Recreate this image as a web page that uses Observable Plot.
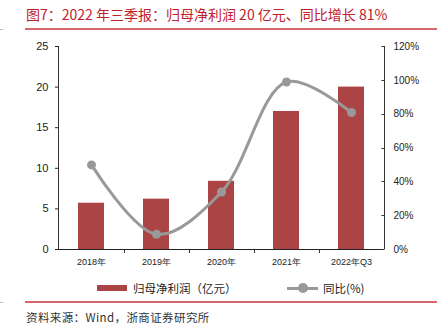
<!DOCTYPE html>
<html><head><meta charset="utf-8">
<script src="https://cdn.jsdelivr.net/npm/d3@7"></script>
<script src="https://cdn.jsdelivr.net/npm/@observablehq/plot@0.6"></script>
<style>
body{margin:0;background:#fff;font-family:"Noto Sans CJK SC",sans-serif;}
#wrap{position:relative;width:437px;height:328px;overflow:hidden;background:#fff;}
#title{position:absolute;left:26px;top:4px;font-size:14px;color:#c0202a;white-space:nowrap;line-height:20px;}
.rline{position:absolute;left:25px;width:412px;height:2px;background:#d9666a;}
.gmark{position:absolute;left:0;width:3px;height:1px;background:#bbb;}
#chart{position:absolute;left:0;top:34px;}
.lg{position:absolute;font-size:11.5px;color:#222;white-space:nowrap;line-height:16px;}
#source{position:absolute;left:26px;top:309px;font-size:11.5px;letter-spacing:0.4px;color:#333;white-space:nowrap;line-height:16px;}
</style></head>
<body>
<div id="wrap">
  <div id="title">图7：2022 年三季报：归母净利润 20 亿元、同比增长 81%</div>
  <div class="gmark" style="top:29px"></div>
  <div class="rline" style="top:28px"></div>
  <div id="chart"></div>
  <div style="position:absolute;left:97px;top:285px;width:30px;height:6px;background:#ab4545"></div>
  <div class="lg" style="left:133px;top:280px">归母净利润（亿元）</div>
  <div style="position:absolute;left:287px;top:287px;width:31px;height:3px;background:#999"></div>
  <div style="position:absolute;left:298px;top:283px;width:10px;height:10px;border-radius:5px;background:#999"></div>
  <div class="lg" style="left:323px;top:280px">同比(%)</div>
  <div class="gmark" style="top:302px"></div>
  <div class="rline" style="top:301px"></div>
  <div id="source">资料来源：Wind，浙商证券研究所</div>
</div>
<script>
const categories = ["2018年", "2019年", "2020年", "2021年", "2022年Q3"];
const profit = [5.7, 6.2, 8.4, 17.0, 20.0];
const yoy = [50, 9, 34, 99, 81];
const leftTicks = [0, 5, 10, 15, 20, 25];
const rightTicks = [0, 20, 40, 60, 80, 100, 120];
const yMax = 25, pMax = 120;

const data = categories.map((c, i) => ({cat: c, profit: profit[i], yoy: yoy[i], yoyScaled: yoy[i] * yMax / pMax}));

const W = 437, H = 240, mT = 12, mB = 25, mL = 58, mR = 53;
const chart = Plot.plot({
  width: W, height: H, marginTop: mT, marginBottom: mB, marginLeft: mL, marginRight: mR,
  style: {fontFamily: "'Liberation Sans', Arial, sans-serif", background: "transparent", overflow: "visible", color: "#222"},
  x: {domain: categories, paddingInner: 0.6, paddingOuter: 0.3, label: null},
  y: {domain: [0, yMax], label: null},
  marks: [
    Plot.barY(data, {x: "cat", y: "profit", fill: "#ab4545"}),
    Plot.axisY({anchor: "left", ticks: leftTicks, tickSize: 3, tickPadding: 7, fontSize: 11, label: null}),
    Plot.axisY({anchor: "right", ticks: rightTicks.map(p => p * yMax / pMax), tickFormat: v => Math.round(v * pMax / yMax) + "%", tickSize: 0, tickPadding: 9, fontSize: 10, label: null}),
    Plot.axisX({tickSize: 0, tickPadding: 9, fontSize: 9, label: null}),
    Plot.ruleY([0], {stroke: "#222"}),
    Plot.line(data, {x: "cat", y: "yoyScaled", stroke: "#999", strokeWidth: 3, curve: "catmull-rom"}),
    Plot.dot(data, {x: "cat", y: "yoyScaled", fill: "#999", r: 4.5})
  ]
});
document.getElementById("chart").appendChild(chart);

const ys = chart.scale("y"), xs = chart.scale("x");
const svg = d3.select(chart);
const g = svg.append("g").attr("fill", "none").attr("stroke", "#333").attr("stroke-width", 1);
const y0 = ys.apply(0), yTop = ys.apply(yMax);
const xl = mL + 0.5, xr = W - mR + 0.5;
g.append("line").attr("x1", xl).attr("x2", xl).attr("y1", yTop).attr("y2", y0);
g.append("line").attr("x1", xr).attr("x2", xr).attr("y1", yTop).attr("y2", y0);
for (const p of rightTicks) {
  const y = Math.round(ys.apply(p * yMax / pMax)) + 0.5;
  g.append("line").attr("x1", xr - 3).attr("x2", xr).attr("y1", y).attr("y2", y);
}
const gap = (xs.step - xs.bandwidth) / 2;
for (let i = 1; i < categories.length; i++) {
  const x = Math.round(xs.apply(categories[i]) - gap) + 0.5;
  g.append("line").attr("x1", x).attr("x2", x).attr("y1", y0).attr("y2", y0 + 4);
}
</script>
</body></html>
